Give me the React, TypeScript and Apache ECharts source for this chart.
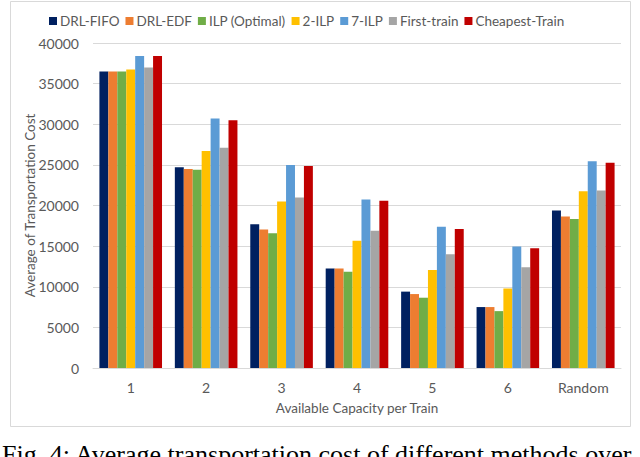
import React, { useEffect, useRef } from "react";
import * as echarts from "echarts";

const categories = ["1", "2", "3", "4", "5", "6", "Random"];
const seriesNames = ["DRL-FIFO", "DRL-EDF", "ILP (Optimal)", "2-ILP", "7-ILP", "First-train", "Cheapest-Train"];
const colors = ["#002060", "#ED7D31", "#70AD47", "#FFC000", "#5B9BD5", "#A5A5A5", "#C00000"];
const drlFifo = [36500, 24700, 17700, 12250, 9400, 7500, 19400];
const drlEdf = [36500, 24500, 17050, 12250, 9100, 7500, 18650];
const ilpOptimal = [36500, 24400, 16600, 11850, 8650, 7000, 18350];
const ilp2 = [36750, 26700, 20500, 15650, 12050, 9800, 21750];
const ilp7 = [38400, 30700, 25000, 20750, 17400, 14950, 25450];
const firstTrain = [37000, 27100, 21000, 16900, 14000, 12400, 21850];
const cheapestTrain = [38400, 30500, 24850, 20600, 17100, 14750, 25250];
const allValues = [drlFifo, drlEdf, ilpOptimal, ilp2, ilp7, firstTrain, cheapestTrain];

const FONT = "Lato, 'Open Sans', sans-serif";
const TXT = "#595959";

export default function App() {
  const ref = useRef<HTMLDivElement>(null);
  useEffect(() => {
    const chart = echarts.init(ref.current!, null, { renderer: "svg" });
    chart.setOption({
      animation: false,
      backgroundColor: "#ffffff",
      textStyle: { fontFamily: FONT },
      legend: {
        top: 9,
        left: 44,
        itemWidth: 8,
        itemHeight: 8,
        itemGap: 6,
        icon: "rect",
        textStyle: { color: TXT, fontSize: 13.5, fontFamily: FONT, padding: [0, 0, 0, -2] },
        data: seriesNames,
      },
      grid: { left: 93, right: 19, top: 43, bottom: 89, containLabel: false },
      xAxis: {
        type: "category",
        data: categories,
        name: "Available Capacity per Train",
        nameLocation: "middle",
        nameGap: 33,
        nameTextStyle: { color: TXT, fontSize: 13.5, fontFamily: FONT },
        axisLine: { lineStyle: { color: "#d9d9d9" } },
        axisTick: { show: false },
        axisLabel: { color: TXT, fontSize: 14, margin: 12, fontFamily: FONT },
      },
      yAxis: {
        type: "value",
        min: 0,
        max: 40000,
        interval: 5000,
        name: "Average of Transportation Cost",
        nameLocation: "middle",
        nameRotate: 90,
        nameGap: 56,
        nameMoveOverlap: false,
        nameTextStyle: { color: TXT, fontSize: 13.5, fontFamily: FONT },
        axisLine: { show: false },
        axisTick: { show: false },
        axisLabel: {
          color: TXT,
          fontSize: 14,
          margin: 14,
          fontFamily: FONT,
          formatter: (v: number) => String(v),
        },
        splitLine: { lineStyle: { color: "#d9d9d9", width: 1 } },
      },
      series: seriesNames.map((name, i) => ({
        name,
        type: "bar",
        data: allValues[i],
        barGap: "0%",
        barCategoryGap: "17%",
        itemStyle: { color: colors[i] },
      })),
      graphic: [
        {
          type: "rect",
          shape: { x: 10.5, y: 1.5, width: 620, height: 425 },
          style: { fill: "none", stroke: "#d9d9d9", lineWidth: 1 },
          silent: true,
        },
        {
          type: "text",
          left: 2,
          top: 441,
          style: {
            text: "Fig. 4: Average transportation cost of different methods over",
            fill: "#000000",
            font: "26px 'Liberation Serif', 'DejaVu Serif', serif",
          },
        },
      ],
    });
    return () => chart.dispose();
  }, []);
  return <div ref={ref} style={{ width: 640, height: 457, position: "absolute", left: 0, top: 0 }} />;
}
